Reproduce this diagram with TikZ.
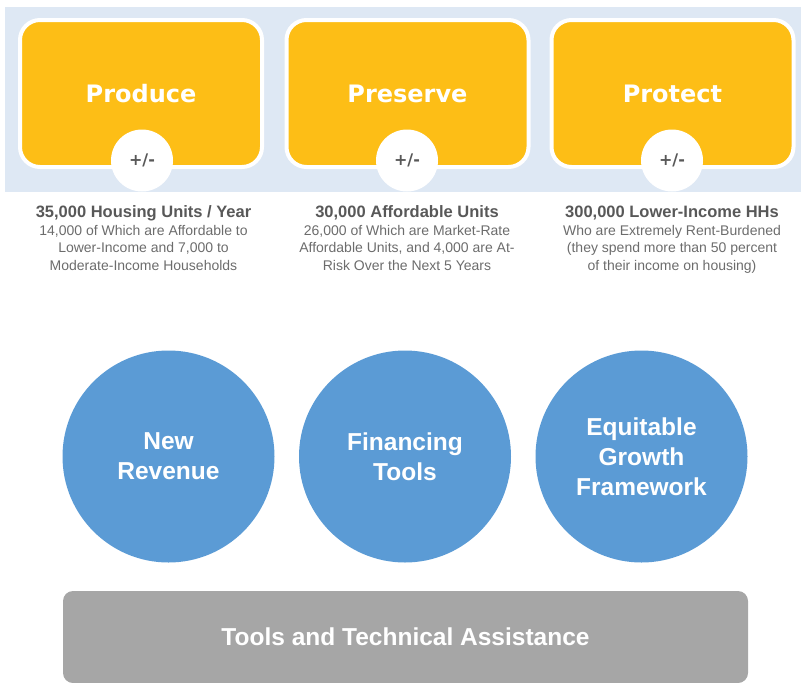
\documentclass[tikz,border=0pt]{standalone}
\usepackage{fontspec}
\setmainfont{Liberation Sans}
\newfontfamily\headfont{DejaVu Sans}
\begin{document}
\begin{tikzpicture}[x=1pt, y=-1pt,
		actionbox/.style={rectangle, rounded corners=20pt, fill=souci, draw=white, line width=4pt, minimum width=242pt, minimum height=147pt, text=white, font=\headfont\bfseries\fontsize{24}{28}\selectfont},
		plusminus/.style={circle, fill=white, minimum size=62pt, inner sep=0pt, text=gristitre, font=\headfont\bfseries\fontsize{16}{18}\selectfont},
		legende/.style={anchor=base, align=center, inner sep=0pt, text=gristexte, font=\fontsize{14}{17.5}\selectfont},
		levier/.style={circle, fill=bleu, minimum size=212pt, inner sep=0pt, align=center, text=white, font=\bfseries\fontsize{24.5}{30}\selectfont},
		socle/.style={rectangle, rounded corners=10pt, fill=gris, minimum width=685pt, minimum height=92pt, text=white, font=\bfseries\fontsize{24.5}{30}\selectfont}]
			\definecolor{bande}{RGB}{222,232,244}
			\definecolor{souci}{RGB}{253,190,22}
			\definecolor{gristitre}{RGB}{88,88,88}
			\definecolor{gristexte}{RGB}{108,108,108}
			\definecolor{bleu}{RGB}{91,155,213}
			\definecolor{gris}{RGB}{166,166,166}
			\useasboundingbox (0,0) rectangle (801,683);
			\fill[bande] (5,7) rectangle (801,192);
			\node[actionbox] (produce) at (141,93.5) {Produce};
			\node[actionbox] (preserve) at (407.5,93.5) {Preserve};
			\node[actionbox] (protect) at (672.5,93.5) {Protect};
			\node[plusminus] (pmProduce) at (142,160.5) {+/-};
			\node[plusminus] (pmPreserve) at (407,160.5) {+/-};
			\node[plusminus] (pmProtect) at (672,160.5) {+/-};
			\node[legende] (capProduce) at (143.5,270) {{\color{gristitre}\bfseries\fontsize{16.5}{17.5}\selectfont 35,000 Housing Units / Year}\\14,000 of Which are Affordable to\\Lower-Income and 7,000 to\\Moderate-Income Households};
			\node[legende] (capPreserve) at (407,270) {{\color{gristitre}\bfseries\fontsize{16.5}{17.5}\selectfont 30,000 Affordable Units}\\26,000 of Which are Market-Rate\\Affordable Units, and 4,000 are At-\\Risk Over the Next 5 Years};
			\node[legende] (capProtect) at (672,270) {{\color{gristitre}\bfseries\fontsize{16.5}{17.5}\selectfont 300,000 Lower-Income HHs}\\Who are Extremely Rent-Burdened\\(they spend more than 50 percent\\of their income on housing)};
			\node[levier] (revenue) at (168.5,456.5) {New\\Revenue};
			\node[levier] (financing) at (405,456.5) {Financing\\Tools};
			\node[levier] (framework) at (641.5,456.5) {Equitable\\Growth\\Framework};
			\node[socle] (assistance) at (405.5,637) {Tools and Technical Assistance};
		\end{tikzpicture}
\end{document}
